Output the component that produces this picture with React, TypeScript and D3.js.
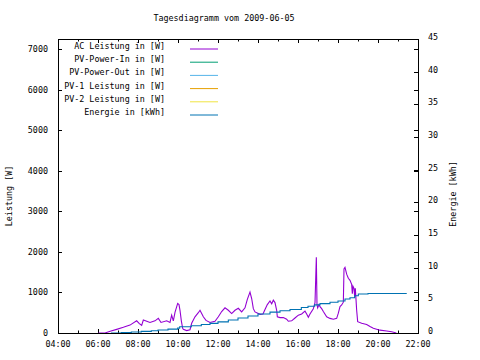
import React from "react";
import * as d3 from "d3";

const title = "Tagesdiagramm vom 2009-06-05";

const acTimes = ["06:01","06:21","06:39","06:56","07:16","07:36","07:56","08:04","08:11","08:16","08:36","08:51","09:01","09:09","09:26","09:36","09:41","09:46","09:51","09:59","10:03","10:06","10:10","10:14","10:16","10:26","10:36","10:41","10:46","10:51","11:01","11:06","11:11","11:16","11:24","11:36","11:51","12:01","12:11","12:21","12:31","12:41","12:51","13:01","13:11","13:21","13:28","13:36","13:41","13:46","13:51","14:06","14:15","14:21","14:28","14:36","14:41","14:46","14:51","14:56","14:58","15:06","15:16","15:26","15:31","15:41","15:51","16:01","16:11","16:21","16:26","16:31","16:36","16:46","16:51","16:53","16:55","16:57","16:59","17:03","17:06","17:11","17:16","17:26","17:36","17:46","17:56","18:01","18:06","18:11","18:16","18:18","18:21","18:26","18:31","18:36","18:41","18:43","18:45","18:48","18:50","18:52","18:54","18:56","18:59","19:11","19:26","19:36","19:46","20:06","20:26","20:41","20:55"];
const acValues = [0,0,50,90,140,195,300,230,190,320,260,300,360,260,300,260,440,300,510,730,700,560,300,115,90,60,80,240,320,400,500,560,480,400,310,260,290,400,530,620,560,480,560,610,520,620,830,1010,850,600,520,460,470,580,700,790,720,810,750,560,400,380,380,340,290,300,370,440,470,540,470,390,470,600,750,1300,1870,700,620,700,650,600,530,400,360,340,360,490,650,690,760,1580,1620,1450,1350,1300,1200,970,1150,1100,900,1100,830,560,280,240,210,160,115,70,50,30,0];

const energyTimes = ["06:39","07:10","07:40","08:10","08:40","09:00","09:30","09:59","10:05","10:40","11:10","11:36","12:00","12:31","13:00","13:30","14:00","14:36","15:06","15:36","16:10","16:30","16:50","17:06","17:36","18:00","18:21","18:36","18:50","19:01","19:30","21:25"];
const energyValues = [0,0.05,0.15,0.25,0.35,0.46,0.6,0.75,0.95,1.1,1.3,1.48,1.7,2.0,2.3,2.6,2.9,3.2,3.4,3.6,3.9,4.1,4.3,4.5,4.7,4.9,5.2,5.4,5.7,5.97,6.05,6.07];

const legendLabels = ["AC Leistung in [W]","PV-Power-In in [W]","PV-Power-Out in [W]","PV-1 Leistung in [W]","PV-2 Leistung in [W]","Energie in [kWh]"];
const legendColors = ["#9400d3","#009e73","#56b4e9","#e69f00","#f0e442","#0072b2"];

const leftTicks = [0,1000,2000,3000,4000,5000,6000,7000];
const rightTicks = [0,5,10,15,20,25,30,35,40,45];

const W = 480, H = 360;
const L = 58, R = 418, T = 39, B = 333;
const FONT = "'DejaVu Sans Mono', monospace";
const FS = 8.4;

export default function App() {
  const parse = d3.timeParse("%H:%M");
  const x = d3.scaleTime().domain([parse("04:00")!, parse("22:00")!]).range([L, R]);
  const y = d3.scaleLinear().domain([0, 7250]).range([B, T]);
  const y2 = d3.scaleLinear().domain([0, 45]).range([B, T]);

  const acData = acTimes.map((t, i) => ({ t: parse(t)!, v: acValues[i] }));
  const enData = energyTimes.map((t, i) => ({ t: parse(t)!, v: energyValues[i] }));

  const acLine = d3.line<{ t: Date; v: number }>().x(d => x(d.t)).y(d => y(d.v));
  const enLine = d3.line<{ t: Date; v: number }>().x(d => x(d.t)).y(d => y2(d.v)).curve(d3.curveStepAfter);

  const hourTicks = x.ticks(d3.timeHour.every(1)!);
  const fmt = d3.timeFormat("%H:%M");

  return (
    <svg width={W} height={H} style={{ position: "absolute", left: 0, top: 0, background: "#fff" }} fontFamily={FONT} fontSize={FS}>
      <rect x={0} y={0} width={W} height={H} fill="#fff" />
      <text x={224} y={21} textAnchor="middle">{title}</text>

      {/* x ticks */}
      {hourTicks.map((d, i) => {
        const major = d.getHours() % 2 === 0;
        const len = major ? 4 : 2.5;
        const xx = Math.round(x(d)) + 0.5;
        return (
          <g key={"xt" + i}>
            <line x1={xx} x2={xx} y1={B} y2={B - len} stroke="#000" />
            <line x1={xx} x2={xx} y1={T} y2={T + len} stroke="#000" />
            {major && <text x={x(d)} y={347} textAnchor="middle">{fmt(d)}</text>}
          </g>
        );
      })}

      {/* left ticks */}
      {leftTicks.map((v, i) => {
        const yy = Math.round(y(v)) + 0.5;
        return (
          <g key={"yt" + i}>
            <line x1={L} x2={L + 4} y1={yy} y2={yy} stroke="#000" />
            <line x1={R} x2={R - 4} y1={yy} y2={yy} stroke="#000" />
            <text x={48} y={y(v) + 3} textAnchor="end">{v}</text>
          </g>
        );
      })}

      {/* right ticks */}
      {rightTicks.map((v, i) => {
        const yy = Math.round(y2(v)) + 0.5;
        return (
          <g key={"y2t" + i}>
            <line x1={R} x2={R - 4} y1={yy} y2={yy} stroke="#000" />
            <text x={428} y={y2(v) + 1} textAnchor="start">{v}</text>
          </g>
        );
      })}

      <text transform={`translate(12,196) rotate(-90)`} textAnchor="middle">Leistung [W]</text>
      <text transform={`translate(456,194) rotate(-90)`} textAnchor="middle">Energie [kWh]</text>

      {/* legend */}
      {legendLabels.map((lab, i) => {
        const yy = 49 + i * 13.2;
        return (
          <g key={"lg" + i}>
            <text x={165} y={yy} textAnchor="end">{lab}</text>
            <line x1={190} x2={218} y1={yy} y2={yy} stroke={legendColors[i]} strokeWidth={1} />
          </g>
        );
      })}

      <path d={acLine(acData) || ""} fill="none" stroke={legendColors[0]} strokeWidth={1.1} />
      <path d={enLine(enData) || ""} fill="none" stroke={legendColors[5]} strokeWidth={1.1} />

      <rect x={L + 0.5} y={T + 0.5} width={R - L} height={B - T} fill="none" stroke="#000" strokeWidth={1} />
    </svg>
  );
}
